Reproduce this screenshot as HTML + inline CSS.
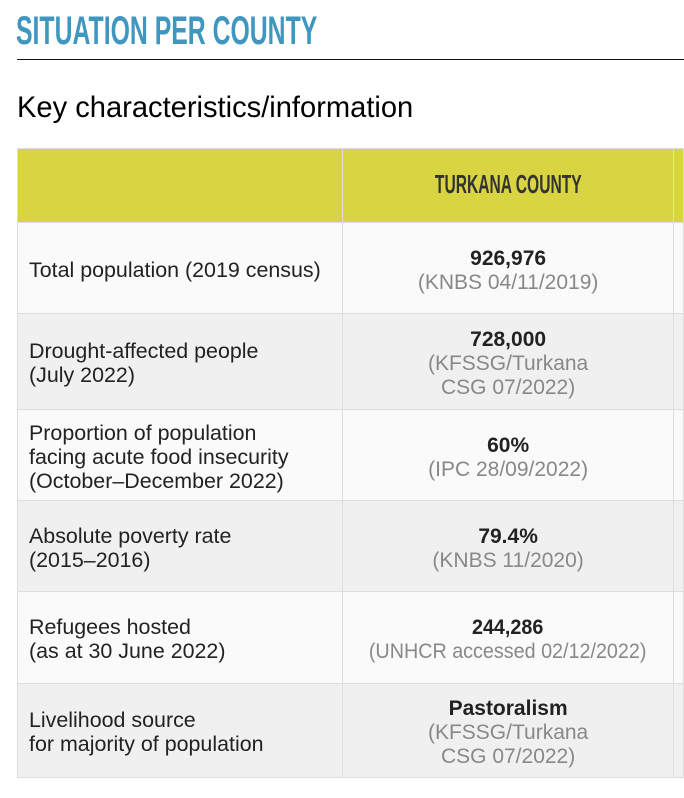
<!DOCTYPE html>
<html><head><style>
body{margin:0;background:#fff;width:684px;height:798px;overflow:hidden;font-family:"Liberation Sans",sans-serif;}
.t{position:absolute;left:16px;top:9px;color:#3f97bf;font-weight:bold;font-size:40px;transform:scaleX(0.62);transform-origin:left top;}
.hr{position:absolute;left:17px;top:59px;width:667px;height:1px;background:#111;}
.k{position:absolute;left:17px;top:91px;font-size:30px;color:#000;transform:scaleX(0.97);transform-origin:left top;}
table{position:absolute;left:17px;top:148px;border-collapse:collapse;table-layout:fixed;}
td{border:1px solid #ddd;padding:0;vertical-align:middle;font-size:21px;color:#222;}
td.l{width:314px;padding-left:11px;line-height:24px;}
td.r{width:332px;text-align:center;line-height:24px;}
td.e{width:9px;}
tr.a td.l,tr.a td.r,tr.b td.l,tr.b td.r{padding-top:5px;}
.h td{background:#d9d441;height:73px;}
.hd{font-weight:bold;font-size:26px;color:#333;display:inline-block;transform:scaleX(0.6);}
.s{color:#888;}
.n{display:inline-block;transform:scaleX(1.02);transform-origin:left center;white-space:nowrap;}
.c{display:inline-block;transform:scaleX(1.0);white-space:nowrap;}
tr.a td{background:#fafafa;} tr.b td{background:#f0f0f0;}
</style></head><body>
<div class="t">SITUATION PER COUNTY</div>
<div class="hr"></div>
<div class="k">Key characteristics/information</div>
<table>
<tr class="h"><td class="l"></td><td class="r"><span class="hd">TURKANA COUNTY</span></td><td class="e"></td></tr>
<tr class="a" style="height:91px"><td class="l"><span class="n">Total population (2019 census)</span></td><td class="r"><span class="c"><b>926,976</b><br><span class="s">(KNBS 04/11/2019)</span></span></td><td class="e"></td></tr>
<tr class="b" style="height:96px"><td class="l"><span class="n">Drought-affected people<br>(July 2022)</span></td><td class="r"><span class="c"><b>728,000</b><br><span class="s">(KFSSG/Turkana<br>CSG 07/2022)</span></span></td><td class="e"></td></tr>
<tr class="a" style="height:91px"><td class="l"><span class="n">Proportion of population<br>facing acute food insecurity<br>(October–December 2022)</span></td><td class="r"><span class="c"><b>60%</b><br><span class="s">(IPC 28/09/2022)</span></span></td><td class="e"></td></tr>
<tr class="b" style="height:91px"><td class="l"><span class="n">Absolute poverty rate<br>(2015–2016)</span></td><td class="r"><span class="c"><b>79.4%</b><br><span class="s">(KNBS 11/2020)</span></span></td><td class="e"></td></tr>
<tr class="a" style="height:92px"><td class="l"><span class="n">Refugees hosted<br>(as at 30 June 2022)</span></td><td class="r"><span class="c" style="transform:scaleX(0.94)"><b>244,286</b><br><span class="s">(UNHCR accessed 02/12/2022)</span></span></td><td class="e"></td></tr>
<tr class="b" style="height:94px"><td class="l"><span class="n">Livelihood source<br>for majority of population</span></td><td class="r"><span class="c"><b>Pastoralism</b><br><span class="s">(KFSSG/Turkana<br>CSG 07/2022)</span></span></td><td class="e"></td></tr>
</table>
</body></html>
